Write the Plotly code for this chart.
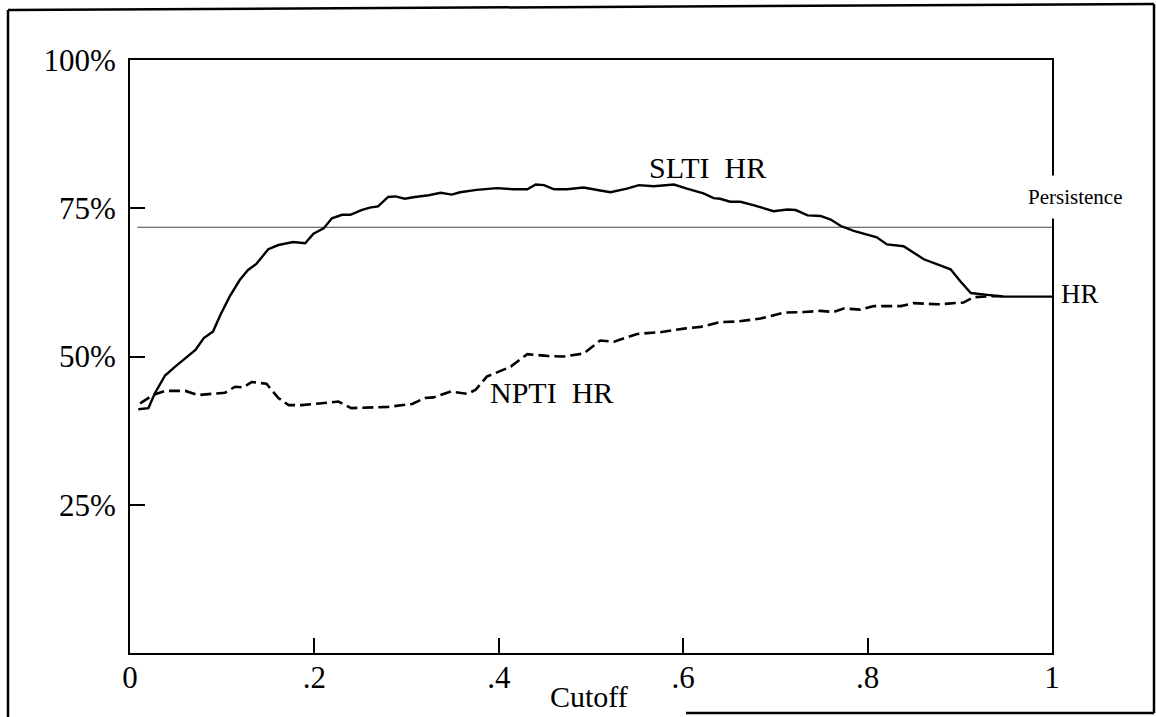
import plotly.graph_objects as go

# ---- data ----
slti_x = [0.009, 0.020, 0.027, 0.038, 0.049, 0.060, 0.071, 0.080, 0.090, 0.098,
          0.108, 0.119, 0.128, 0.137, 0.150, 0.161, 0.177, 0.190, 0.199, 0.210,
          0.219, 0.230, 0.239, 0.251, 0.260, 0.269, 0.280, 0.288, 0.298, 0.309,
          0.324, 0.337, 0.349, 0.358, 0.376, 0.398, 0.416, 0.431, 0.440, 0.449,
          0.460, 0.474, 0.492, 0.510, 0.521, 0.539, 0.552, 0.568, 0.590, 0.604,
          0.622, 0.633, 0.640, 0.651, 0.662, 0.677, 0.698, 0.713, 0.722, 0.735,
          0.749, 0.760, 0.771, 0.785, 0.800, 0.810, 0.821, 0.839, 0.861, 0.876,
          0.890, 0.901, 0.912, 0.930, 0.948, 1.000]
slti_y = [41.1, 41.3, 43.8, 46.8, 48.3, 49.7, 51.1, 53.1, 54.2, 57.0,
          60.1, 62.9, 64.6, 65.6, 68.1, 68.8, 69.3, 69.1, 70.7, 71.6,
          73.3, 73.9, 73.9, 74.7, 75.1, 75.3, 76.9, 77.0, 76.6, 76.9,
          77.2, 77.6, 77.3, 77.7, 78.1, 78.4, 78.2, 78.2, 79.0, 78.9,
          78.2, 78.2, 78.5, 78.0, 77.7, 78.3, 78.9, 78.7, 79.0, 78.3,
          77.5, 76.7, 76.6, 76.1, 76.1, 75.5, 74.5, 74.8, 74.7, 73.8,
          73.7, 73.1, 72.0, 71.2, 70.5, 70.1, 68.9, 68.6, 66.4, 65.5,
          64.7, 62.6, 60.7, 60.4, 60.1, 60.1]

npti_x = [0.011, 0.025, 0.038, 0.060, 0.074, 0.089, 0.103, 0.114, 0.123, 0.132,
          0.148, 0.161, 0.172, 0.186, 0.201, 0.226, 0.240, 0.259, 0.280, 0.306,
          0.320, 0.329, 0.348, 0.366, 0.375, 0.387, 0.413, 0.431, 0.452, 0.470,
          0.492, 0.510, 0.525, 0.550, 0.575, 0.601, 0.619, 0.640, 0.659, 0.684,
          0.709, 0.731, 0.749, 0.763, 0.774, 0.792, 0.807, 0.836, 0.850, 0.876,
          0.904, 0.915, 0.941, 0.950]
npti_y = [42.1, 43.5, 44.2, 44.2, 43.5, 43.7, 43.9, 44.9, 44.8, 45.7,
          45.4, 43.0, 41.8, 41.8, 42.0, 42.4, 41.3, 41.4, 41.5, 42.0,
          43.0, 43.1, 44.1, 43.7, 44.4, 46.6, 48.3, 50.4, 50.1, 50.0,
          50.5, 52.7, 52.5, 53.8, 54.1, 54.7, 55.0, 55.8, 55.9, 56.4,
          57.4, 57.5, 57.7, 57.5, 58.1, 57.9, 58.5, 58.5, 59.0, 58.8,
          59.1, 60.0, 60.2, 60.1]

persistence_x = [0.008, 1.0]
persistence_y = [71.8, 71.8]

x_tickvals = [0, 0.2, 0.4, 0.6, 0.8, 1.0]
x_ticktext = ["0", ".2", ".4", ".6", ".8", "1"]
y_tickvals = [25, 50, 75, 100]
y_ticktext = ["25%", "50%", "75%", "100%"]

FONT = "Liberation Serif, Times New Roman, serif"

fig = go.Figure()
fig.add_trace(go.Scatter(x=persistence_x, y=persistence_y, mode="lines",
                         line=dict(color="#444444", width=1.2), showlegend=False))
fig.add_trace(go.Scatter(x=npti_x, y=npti_y, mode="lines",
                         line=dict(color="black", width=2.6, dash="11px,5px"),
                         showlegend=False))
fig.add_trace(go.Scatter(x=slti_x, y=slti_y, mode="lines",
                         line=dict(color="black", width=2.4), showlegend=False))

W, H = 1156, 717
L, R, T, B = 130, 104, 60, 64
pw, ph = W - L - R, H - T - B


def px(x):
    return (x - L) / pw


def py(y):
    return (H - B - y) / ph


frame = dict(type="line", xref="paper", yref="paper", line=dict(color="black", width=2.5))
shapes = [
    dict(frame, x0=px(8), y0=py(10), x1=px(8), y1=py(717)),
    dict(frame, x0=px(8), y0=py(10), x1=px(1154), y1=py(4)),
    dict(frame, x0=px(1154), y0=py(4), x1=px(1154), y1=py(713)),
    dict(frame, x0=px(686), y0=py(713), x1=px(1154), y1=py(713)),
]

annotations = [
    dict(x=0.561, y=81.9, xref="x", yref="y", text="SLTI\u00a0 HR", showarrow=False,
         xanchor="left", yanchor="middle", font=dict(family=FONT, size=30, color="black")),
    dict(x=0.388, y=43.9, xref="x", yref="y", text="NPTI\u00a0 HR", showarrow=False,
         xanchor="left", yanchor="middle", font=dict(family=FONT, size=30, color="black")),
    dict(x=px(1075), y=py(197), xref="paper", yref="paper", text="Persistence",
         showarrow=False, xanchor="center", yanchor="middle", bgcolor="white",
         borderpad=9, font=dict(family=FONT, size=21, color="black")),
    dict(x=px(1059), y=py(294), xref="paper", yref="paper", text="HR", showarrow=False,
         xanchor="left", yanchor="middle", font=dict(family=FONT, size=27, color="black")),
    dict(x=0.498, y=py(696), xref="x", yref="paper", text="Cutoff", showarrow=False,
         xanchor="center", yanchor="middle", font=dict(family=FONT, size=30, color="black")),
]

fig.update_layout(
    width=W, height=H,
    margin=dict(l=L, r=R, t=T, b=B, pad=0),
    paper_bgcolor="white", plot_bgcolor="white",
    font=dict(family=FONT, color="black"),
    shapes=shapes, annotations=annotations,
    xaxis=dict(range=[0, 1], tickvals=x_tickvals, ticktext=x_ticktext,
               ticks="inside", ticklen=15, tickwidth=2, tickcolor="black",
               showline=True, mirror=True, linecolor="black", linewidth=2,
               showgrid=False, zeroline=False, ticklabelstandoff=-4,
               tickfont=dict(family=FONT, size=31, color="black")),
    yaxis=dict(range=[0, 100], tickvals=y_tickvals, ticktext=y_ticktext,
               ticks="inside", ticklen=15, tickwidth=2, tickcolor="black",
               showline=True, mirror=True, linecolor="black", linewidth=2,
               showgrid=False, zeroline=False, ticklabelstandoff=6,
               tickfont=dict(family=FONT, size=31, color="black")),
)

fig.write_html("out.html")
